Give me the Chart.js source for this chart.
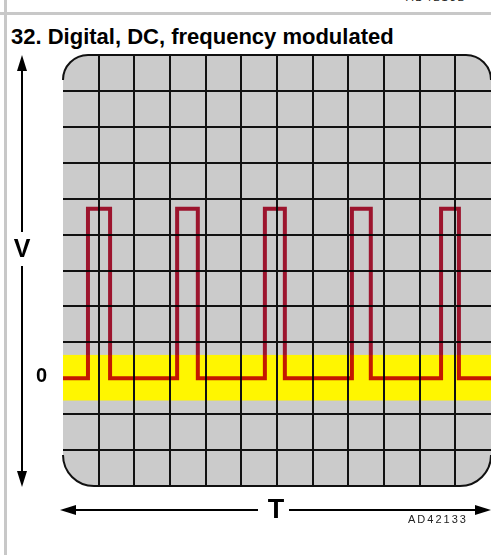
<!DOCTYPE html>
<html>
<head>
<meta charset="utf-8">
<script src="https://cdn.jsdelivr.net/npm/chart.js@4.4.1/dist/chart.umd.min.js"></script>
<style>
  html, body { margin: 0; padding: 0; background: #fff; }
  #wrap { position: relative; width: 491px; height: 555px; overflow: hidden; font-family: "Liberation Sans", Arial, sans-serif; }
  canvas { position: absolute; left: 0; top: 0; }
  .rule-v { position: absolute; left: 4px; top: 0; width: 3px; height: 555px; background: #c8c8c8; }
  .rule-h { position: absolute; left: 0; top: 12px; width: 491px; height: 3px; background: #c8c8c8; }
  .lbl { position: absolute; white-space: nowrap; color: #000; font-weight: bold; }
  .code { position: absolute; white-space: nowrap; color: #222; font-size: 11px; line-height: 11px; letter-spacing: 2px; }
</style>
</head>
<body>
<div id="wrap">
  <div class="rule-v"></div>
  <div class="rule-h"></div>
  <div class="code" style="left:406px; top:-8px;">AD42132</div>
  <div class="lbl" style="left:11px; top:26px; font-size:22px; line-height:22px;">32. Digital, DC, frequency modulated</div>
  <canvas id="scope" width="491" height="555"></canvas>
  <div class="lbl" style="left:2px; top:236px; width:40px; text-align:center; font-size:25px; line-height:25px;">V</div>
  <div class="lbl" style="left:36px; top:365px; font-size:20px; line-height:20px;">0</div>
  <div class="lbl" style="left:256px; top:496px; width:40px; text-align:center; font-size:27px; line-height:27px;">T</div>
  <div class="code" style="left:408px; top:514px;">AD42133</div>
</div>
<script>
// pulse edges in screen divisions
const riseTimes = [0.70, 3.20, 5.66, 8.10, 10.60];
const fallTimes = [1.32, 3.78, 6.22, 8.63, 11.10];
const highLevel = 4.72;
const lowLevel = 0;
const bandLimits = [-0.62, 0.65];   // yellow zero band
const xRange = [0, 12];
const yRange = [-3, 9];

// build the stepped trace from the edges
const trace = [{ x: xRange[0], y: lowLevel }];
riseTimes.forEach((r, i) => {
    trace.push({ x: r, y: lowLevel }, { x: r, y: highLevel },
               { x: fallTimes[i], y: highLevel }, { x: fallTimes[i], y: lowLevel });
});
trace.push({ x: xRange[1], y: lowLevel });

const scopeFrame = {
    id: 'scopeFrame',
    beforeDraw(chart) {
        const { ctx, chartArea: a, scales: { y } } = chart;
        ctx.save();
        ctx.fillStyle = '#cbcbcb';
        ctx.fillRect(a.left, a.top, a.right - a.left, a.bottom - a.top);
        const yt = y.getPixelForValue(bandLimits[1]);
        const yb = y.getPixelForValue(bandLimits[0]);
        ctx.fillStyle = '#fff600';
        ctx.fillRect(a.left, yt, a.right - a.left, yb - yt);
        ctx.restore();
    },
    beforeDatasetsDraw(chart) {
        chart.ctx.save();
        chart.ctx.globalCompositeOperation = 'multiply';
    },
    afterDatasetsDraw(chart) {
        chart.ctx.restore();
    },
    afterDraw(chart) {
        const { ctx, chartArea: a } = chart;
        const L = a.left, R = a.right, T = a.top, B = a.bottom;
        const rt = 25, rb = 31;
        ctx.save();
        // rounded screen corners
        ctx.fillStyle = '#fff';
        ctx.beginPath();
        ctx.moveTo(L + rt, T - 2); ctx.lineTo(L - 2, T - 2); ctx.lineTo(L - 2, T + rt);
        ctx.arc(L + rt, T + rt, rt, Math.PI, 1.5 * Math.PI); ctx.closePath(); ctx.fill();
        ctx.beginPath();
        ctx.moveTo(R + 2, T + rt); ctx.lineTo(R + 2, T - 2); ctx.lineTo(R - rt, T - 2);
        ctx.arc(R - rt, T + rt, rt, 1.5 * Math.PI, 2 * Math.PI); ctx.closePath(); ctx.fill();
        ctx.beginPath();
        ctx.moveTo(R - rb, B + 2); ctx.lineTo(R + 2, B + 2); ctx.lineTo(R + 2, B - rb);
        ctx.arc(R - rb, B - rb, rb, 0, 0.5 * Math.PI); ctx.closePath(); ctx.fill();
        ctx.beginPath();
        ctx.moveTo(L - 2, B - rb); ctx.lineTo(L - 2, B + 2); ctx.lineTo(L + rb, B + 2);
        ctx.arc(L + rb, B - rb, rb, 0.5 * Math.PI, Math.PI); ctx.closePath(); ctx.fill();

        ctx.strokeStyle = '#111';
        ctx.lineWidth = 2;
        ctx.beginPath(); ctx.arc(L + rt, T + rt, rt, Math.PI, 1.5 * Math.PI); ctx.stroke();
        ctx.beginPath(); ctx.arc(R - rt, T + rt, rt, 1.5 * Math.PI, 2 * Math.PI); ctx.stroke();
        ctx.beginPath(); ctx.arc(R - rb, B - rb, rb, 0, 0.5 * Math.PI); ctx.stroke();
        ctx.beginPath(); ctx.arc(L + rb, B - rb, rb, 0.5 * Math.PI, Math.PI); ctx.stroke();

        // V axis arrow
        const vx = L - 41;
        ctx.strokeStyle = '#000';
        ctx.fillStyle = '#000';
        ctx.beginPath();
        ctx.moveTo(vx, T + 12); ctx.lineTo(vx, T + 177);
        ctx.moveTo(vx, T + 211); ctx.lineTo(vx, B - 10);
        ctx.stroke();
        ctx.beginPath();
        ctx.moveTo(vx, T); ctx.lineTo(vx - 5, T + 16); ctx.lineTo(vx + 5, T + 16); ctx.closePath(); ctx.fill();
        ctx.beginPath();
        ctx.moveTo(vx, B + 1); ctx.lineTo(vx - 5, B - 15); ctx.lineTo(vx + 5, B - 15); ctx.closePath(); ctx.fill();

        // T axis arrow
        const ty = B + 24;
        ctx.beginPath();
        ctx.moveTo(L + 10, ty); ctx.lineTo(258, ty);
        ctx.moveTo(289, ty); ctx.lineTo(R - 10, ty);
        ctx.stroke();
        ctx.beginPath();
        ctx.moveTo(L - 3, ty); ctx.lineTo(L + 13, ty - 5); ctx.lineTo(L + 13, ty + 5); ctx.closePath(); ctx.fill();
        ctx.beginPath();
        ctx.moveTo(R, ty); ctx.lineTo(R - 16, ty - 5); ctx.lineTo(R - 16, ty + 5); ctx.closePath(); ctx.fill();
        ctx.restore();
    }
};

const ctx = document.getElementById('scope').getContext('2d');
new Chart(ctx, {
    type: 'line',
    data: {
        datasets: [{
            label: 'Signal',
            data: trace,
            borderColor: '#c41838',
            borderWidth: 4,
            pointRadius: 0,
            tension: 0,
            fill: false
        }]
    },
    options: {
        responsive: false,
        animation: false,
        devicePixelRatio: 1,
        layout: { padding: { left: 63, top: 55, right: 0, bottom: 69 } },
        plugins: { legend: { display: false }, tooltip: { enabled: false } },
        scales: {
            x: {
                type: 'linear', min: xRange[0], max: xRange[1],
                ticks: { display: false, stepSize: 1 },
                border: { display: false },
                grid: {
                    drawTicks: false, lineWidth: 2,
                    color: c => (c.index === 0 || c.index === 12) ? 'rgba(0,0,0,0)' : '#111'
                }
            },
            y: {
                min: yRange[0], max: yRange[1],
                ticks: { display: false, stepSize: 1 },
                border: { display: false },
                grid: {
                    drawTicks: false, lineWidth: 2,
                    color: c => (c.tick && c.tick.value === lowLevel) ? 'rgba(0,0,0,0)' : '#111'
                }
            }
        }
    },
    plugins: [scopeFrame]
});
</script>
</body>
</html>
